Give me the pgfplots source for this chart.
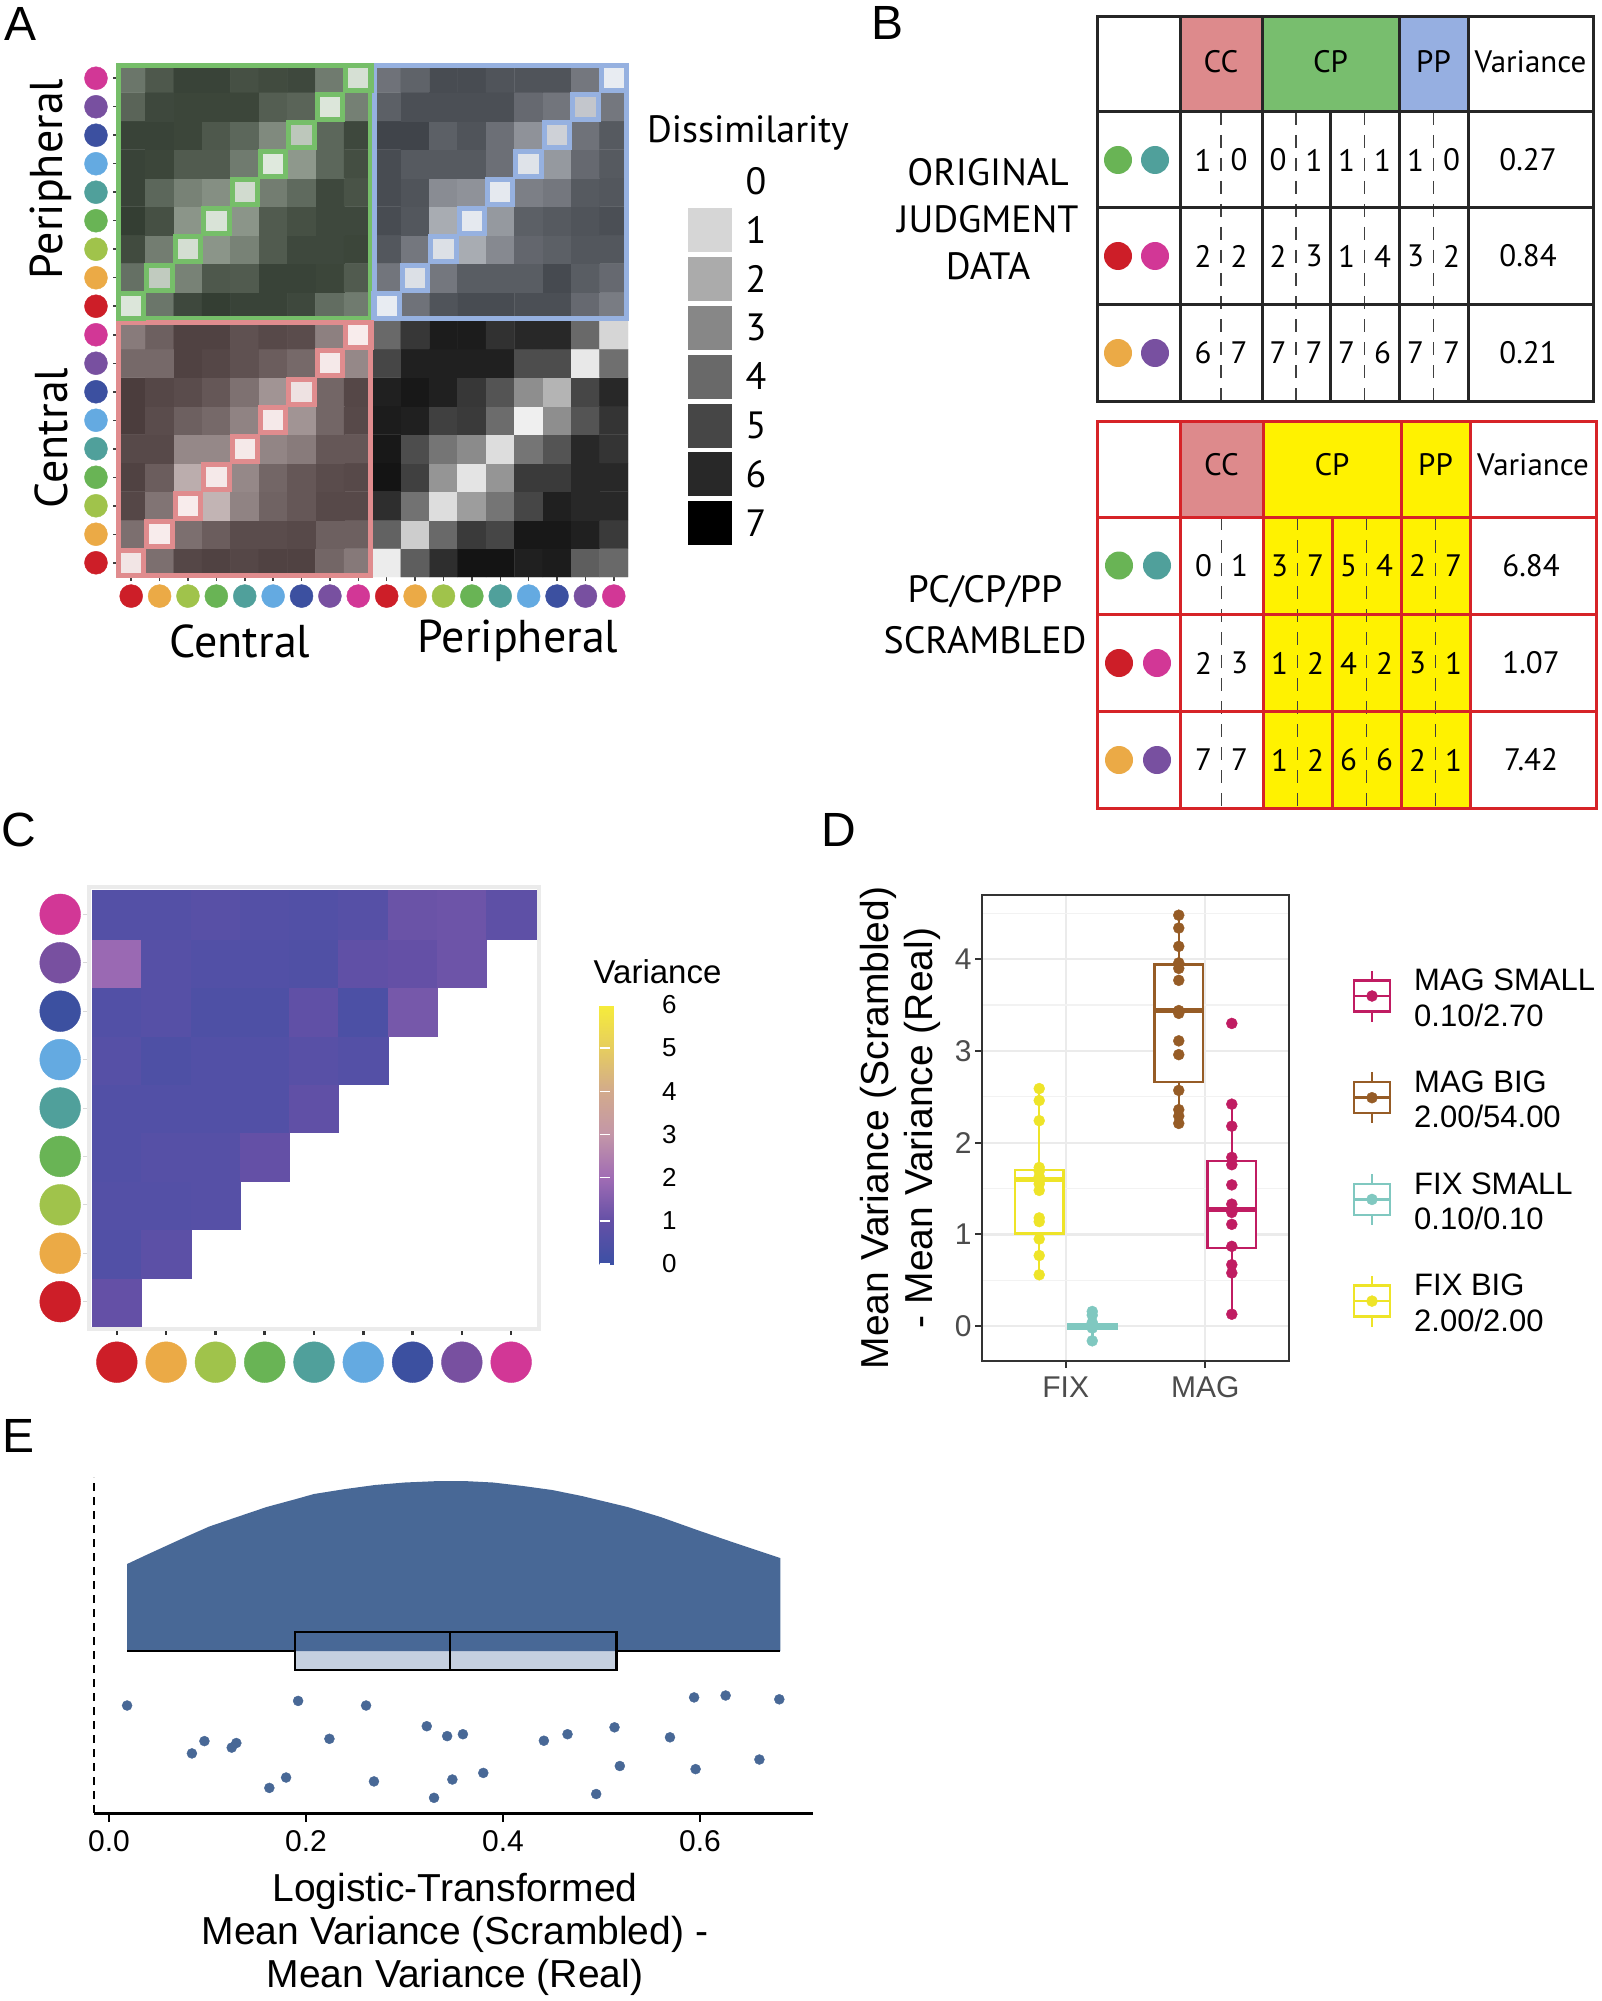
\documentclass[border=0pt]{standalone}
\usepackage{fontspec}
\setmainfont{Liberation Sans}
\newfontfamily\myr{PT Sans}
\usepackage{pgfplots}
\pgfplotsset{compat=1.18}
\usepgfplotslibrary{statistics}
\newcommand\fs[2]{\fontsize{#1}{#2}\selectfont}
\definecolor{cRed}{RGB}{205,30,40}
\definecolor{cOra}{RGB}{235,170,70}
\definecolor{cYgr}{RGB}{160,195,75}
\definecolor{cGrn}{RGB}{105,180,85}
\definecolor{cTea}{RGB}{80,160,155}
\definecolor{cLbl}{RGB}{100,170,225}
\definecolor{cDbl}{RGB}{60,80,160}
\definecolor{cPur}{RGB}{120,80,160}
\definecolor{cPnk}{RGB}{210,55,150}
\definecolor{qG}{RGB}{118,190,105}
\definecolor{qB}{RGB}{150,177,224}
\definecolor{qR}{RGB}{224,140,142}
\definecolor{hCC}{RGB}{221,138,140}
\definecolor{hCP}{RGB}{120,190,110}
\definecolor{hPP}{RGB}{150,175,225}
\definecolor{yel}{RGB}{255,242,0}
\definecolor{tRed}{RGB}{214,35,40}
\definecolor{dMag}{RGB}{192,28,98}
\definecolor{dBro}{RGB}{150,92,38}
\definecolor{dTea}{RGB}{128,200,192}
\definecolor{dYel}{RGB}{238,228,40}
\definecolor{eBlu}{RGB}{72,104,150}
\definecolor{eBox}{RGB}{197,208,224}
\pgfplotsset{
  /pgf/number format/assume math mode=true,
  colormap={grayq}{rgb255=(250,250,250) rgb255=(214,214,214) rgb255=(171,171,171) rgb255=(135,135,135) rgb255=(105,105,105) rgb255=(70,70,70) rgb255=(40,40,40) rgb255=(0,0,0)},
  colormap={greenq}{rgb255=(229,239,227) rgb255=(200,210,198) rgb255=(163,174,162) rgb255=(133,143,131) rgb255=(107,118,106) rgb255=(78,88,76) rgb255=(52,62,51) rgb255=(18,29,17)},
  colormap={blueq}{rgb255=(235,239,245) rgb255=(206,209,215) rgb255=(168,172,178) rgb255=(137,140,147) rgb255=(111,114,121) rgb255=(80,84,90) rgb255=(54,58,64) rgb255=(20,23,29)},
  colormap={redq}{rgb255=(248,236,236) rgb255=(216,202,202) rgb255=(180,166,166) rgb255=(149,136,136) rgb255=(124,111,111) rgb255=(95,81,81) rgb255=(70,56,56) rgb255=(36,22,22)},
  colormap={varmap}{rgb255=(60,80,165) rgb255=(100,80,166) rgb255=(160,108,180) rgb255=(195,150,168) rgb255=(210,170,140) rgb255=(230,205,95) rgb255=(246,236,58)},
  dotclasses/.style={scatter/classes={
     cr={draw=cRed,fill=cRed}, co={draw=cOra,fill=cOra}, cy={draw=cYgr,fill=cYgr},
     cg={draw=cGrn,fill=cGrn}, ct={draw=cTea,fill=cTea}, cl={draw=cLbl,fill=cLbl},
     cd={draw=cDbl,fill=cDbl}, cp={draw=cPur,fill=cPur}, cm={draw=cPnk,fill=cPnk}}},
}
\newcommand\pr[4]{\node[font=\myr\fs{31}{36}] at (#1-18,#2) {#3};\node[font=\myr\fs{31}{36}] at (#1+18,#2) {#4};}
\begin{document}
\begin{tikzpicture}
\path[use as bounding box] (0pt,0pt) rectangle (1602pt,-2001pt);

% ---------------- Panel A heatmap ----------------
\begin{axis}[at={(117pt,-64pt)}, anchor=north west, scale only axis, width=511pt, height=513pt,
  xmin=-0.5, xmax=17.5, ymin=-0.5, ymax=17.5, clip=false, enlargelimits=false,
  axis line style={draw=none}, xtick={0,...,17}, ytick={0,...,17}, xticklabels={}, yticklabels={},
  xtick pos=bottom, ytick pos=left, tick align=outside, major tick length=4pt,
  tick style={draw=black!75, line width=1.5pt},
  point meta min=0, point meta max=7]
\addplot[matrix plot*, mesh/cols=9, point meta=explicit, colormap name=greenq] table[row sep=\\, meta=v] {x y v\\
0 9 0.3\\ 1 9 4.0\\ 2 9 5.6\\ 3 9 6.0\\ 4 9 5.8\\ 5 9 5.8\\ 6 9 5.6\\ 7 9 4.3\\ 8 9 3.8\\
0 10 4.2\\ 1 10 1.2\\ 2 10 3.5\\ 3 10 5.0\\ 4 10 4.9\\ 5 10 5.8\\ 6 10 5.8\\ 7 10 5.7\\ 8 10 4.9\\
0 11 5.5\\ 1 11 3.7\\ 2 11 0.6\\ 3 11 2.8\\ 4 11 3.5\\ 5 11 4.9\\ 6 11 5.6\\ 7 11 5.6\\ 8 11 5.7\\
0 12 6.0\\ 1 12 5.3\\ 2 12 2.8\\ 3 12 0.4\\ 4 12 2.8\\ 5 12 4.9\\ 6 12 5.3\\ 7 12 5.6\\ 8 12 5.6\\
0 13 5.8\\ 1 13 4.5\\ 2 13 3.5\\ 3 13 3.0\\ 4 13 0.7\\ 5 13 3.7\\ 6 13 4.4\\ 7 13 5.6\\ 8 13 5.2\\
0 14 5.8\\ 1 14 5.7\\ 2 14 4.9\\ 3 14 4.9\\ 4 14 3.8\\ 5 14 0.2\\ 6 14 2.7\\ 7 14 4.5\\ 8 14 5.4\\
0 15 5.8\\ 1 15 5.8\\ 2 15 5.7\\ 3 15 5.0\\ 4 15 4.5\\ 5 15 3.2\\ 6 15 1.3\\ 7 15 4.5\\ 8 15 5.6\\
0 16 4.6\\ 1 16 5.6\\ 2 16 5.7\\ 3 16 5.7\\ 4 16 5.7\\ 5 16 4.8\\ 6 16 4.6\\ 7 16 0.3\\ 8 16 3.6\\
0 17 4.0\\ 1 17 5.0\\ 2 17 5.8\\ 3 17 5.8\\ 4 17 5.3\\ 5 17 5.5\\ 6 17 5.6\\ 7 17 3.8\\ 8 17 0.5\\
};
\addplot[matrix plot*, mesh/cols=9, point meta=explicit, colormap name=blueq] table[row sep=\\, meta=v] {x y v\\
9 9 0.1\\ 10 9 4.0\\ 11 9 5.0\\ 12 9 5.3\\ 13 9 5.3\\ 14 9 5.2\\ 15 9 5.2\\ 16 9 4.3\\ 17 9 3.6\\
9 10 3.9\\ 10 10 0.5\\ 11 10 3.8\\ 12 10 4.7\\ 13 10 4.7\\ 14 10 4.7\\ 15 10 5.4\\ 16 10 4.7\\ 17 10 4.3\\
9 11 4.9\\ 10 11 3.8\\ 11 11 0.5\\ 12 11 2.0\\ 13 11 3.1\\ 14 11 4.4\\ 15 11 4.6\\ 16 11 4.9\\ 17 11 4.9\\
9 12 5.3\\ 10 12 4.9\\ 11 12 2.0\\ 12 12 0.2\\ 13 12 2.6\\ 14 12 4.6\\ 15 12 4.8\\ 16 12 5.0\\ 17 12 5.2\\
9 13 5.3\\ 10 13 5.0\\ 11 13 3.0\\ 12 13 2.8\\ 13 13 0.2\\ 14 13 3.5\\ 15 13 3.8\\ 16 13 4.8\\ 17 13 4.9\\
9 14 5.3\\ 10 14 4.8\\ 11 14 4.8\\ 12 14 4.8\\ 13 14 4.1\\ 14 14 0.4\\ 15 14 2.6\\ 16 14 4.3\\ 17 14 4.8\\
9 15 5.6\\ 10 15 5.6\\ 11 15 4.6\\ 12 15 5.0\\ 13 15 4.1\\ 14 15 2.8\\ 15 15 1.0\\ 16 15 4.0\\ 17 15 4.8\\
9 16 4.6\\ 10 16 5.2\\ 11 16 5.2\\ 12 16 5.2\\ 13 16 5.2\\ 14 16 4.3\\ 15 16 3.9\\ 16 16 1.3\\ 17 16 3.8\\
9 17 4.0\\ 10 17 4.5\\ 11 17 5.3\\ 12 17 5.3\\ 13 17 5.0\\ 14 17 5.0\\ 15 17 5.0\\ 16 17 3.8\\ 17 17 0.1\\
};
\addplot[matrix plot*, mesh/cols=9, point meta=explicit, colormap name=redq] table[row sep=\\, meta=v] {x y v\\
0 0 0.2\\ 1 0 4.0\\ 2 0 5.4\\ 3 0 5.6\\ 4 0 5.4\\ 5 0 5.6\\ 6 0 5.6\\ 7 0 4.3\\ 8 0 3.6\\
0 1 4.0\\ 1 1 0.0\\ 2 1 4.0\\ 3 1 4.6\\ 4 1 5.2\\ 5 1 5.2\\ 6 1 5.3\\ 7 1 4.5\\ 8 1 4.5\\
0 2 5.4\\ 1 2 3.8\\ 2 2 0.0\\ 3 2 1.6\\ 4 2 3.2\\ 5 2 4.4\\ 6 2 4.8\\ 7 2 5.3\\ 8 2 5.3\\
0 3 5.6\\ 1 3 4.6\\ 2 3 1.8\\ 3 3 0.1\\ 4 3 3.0\\ 5 3 4.3\\ 6 3 4.8\\ 7 3 5.2\\ 8 3 5.3\\
0 4 5.3\\ 1 4 5.3\\ 2 4 3.0\\ 3 4 3.0\\ 4 4 0.1\\ 5 4 3.1\\ 6 4 3.5\\ 7 4 4.8\\ 8 4 4.8\\
0 5 5.8\\ 1 5 5.2\\ 2 5 4.5\\ 3 5 4.2\\ 4 5 3.2\\ 5 5 0.1\\ 6 5 2.6\\ 7 5 4.3\\ 8 5 5.3\\
0 6 5.8\\ 1 6 5.4\\ 2 6 5.2\\ 3 6 4.8\\ 4 6 3.9\\ 5 6 2.6\\ 6 6 0.3\\ 7 6 4.3\\ 8 6 5.4\\
0 7 4.2\\ 1 7 4.2\\ 2 7 5.6\\ 3 7 5.4\\ 4 7 5.0\\ 5 7 4.6\\ 6 7 4.2\\ 7 7 0.1\\ 8 7 3.0\\
0 8 3.5\\ 1 8 4.5\\ 2 8 5.6\\ 3 8 5.6\\ 4 8 5.0\\ 5 8 5.3\\ 6 8 5.2\\ 7 8 3.3\\ 8 8 0.0\\
};
\addplot[matrix plot*, mesh/cols=9, point meta=explicit, colormap name=grayq] table[row sep=\\, meta=v] {x y v\\
9 0 0.4\\ 10 0 4.3\\ 11 0 5.8\\ 12 0 6.5\\ 13 0 6.5\\ 14 0 6.2\\ 15 0 6.3\\ 16 0 4.3\\ 17 0 4.0\\
9 1 4.2\\ 10 1 1.2\\ 11 1 4.0\\ 12 1 5.4\\ 13 1 5.0\\ 14 1 6.4\\ 15 1 6.4\\ 16 1 6.2\\ 17 1 5.4\\
9 2 5.8\\ 10 2 3.7\\ 11 2 0.8\\ 12 2 2.4\\ 13 2 3.6\\ 14 2 5.0\\ 15 2 6.2\\ 16 2 6.0\\ 17 2 6.0\\
9 3 6.5\\ 10 3 5.2\\ 11 3 2.6\\ 12 3 0.6\\ 13 3 2.6\\ 14 3 5.4\\ 15 3 5.4\\ 16 3 6.0\\ 17 3 6.0\\
9 4 6.4\\ 10 4 4.8\\ 11 4 3.6\\ 12 4 2.9\\ 13 4 0.8\\ 14 4 3.6\\ 15 4 4.6\\ 16 4 6.0\\ 17 4 5.6\\
9 5 6.3\\ 10 5 6.2\\ 11 5 5.2\\ 12 5 5.4\\ 13 5 3.9\\ 14 5 0.3\\ 15 5 2.8\\ 16 5 4.6\\ 17 5 5.6\\
9 6 6.2\\ 10 6 6.4\\ 11 6 6.2\\ 12 6 5.5\\ 13 6 4.6\\ 14 6 2.8\\ 15 6 1.8\\ 16 6 5.0\\ 17 6 6.0\\
9 7 5.0\\ 10 7 6.2\\ 11 7 6.2\\ 12 7 6.2\\ 13 7 6.2\\ 14 7 4.8\\ 15 7 4.8\\ 16 7 0.5\\ 17 7 3.8\\
9 8 4.0\\ 10 8 5.5\\ 11 8 6.3\\ 12 8 6.3\\ 13 8 5.7\\ 14 8 6.0\\ 15 8 6.0\\ 16 8 4.0\\ 17 8 1.0\\
};
% quadrant outlines
\addplot[draw=qG, line width=5pt, line join=miter] coordinates {(-0.43,8.57) (8.43,8.57) (8.43,17.43) (-0.43,17.43)} --cycle;
\addplot[draw=qB, line width=5pt, line join=miter] coordinates {(8.57,8.57) (17.43,8.57) (17.43,17.43) (8.57,17.43)} --cycle;
\addplot[draw=qR, line width=5pt, line join=miter] coordinates {(-0.43,-0.43) (8.43,-0.43) (8.43,8.43) (-0.43,8.43)} --cycle;
\addplot[only marks, mark=square, mark size=12.7pt, mark options={draw=qG, line width=5pt}] coordinates {(0,9) (1,10) (2,11) (3,12) (4,13) (5,14) (6,15) (7,16) (8,17)};
\addplot[only marks, mark=square, mark size=12.7pt, mark options={draw=qB, line width=5pt}] coordinates {(9,9) (10,10) (11,11) (12,12) (13,13) (14,14) (15,15) (16,16) (17,17)};
\addplot[only marks, mark=square, mark size=12.7pt, mark options={draw=qR, line width=5pt}] coordinates {(0,0) (1,1) (2,2) (3,3) (4,4) (5,5) (6,6) (7,7) (8,8)};
% colour dots
\addplot[scatter, only marks, mark=*, mark size=11.5pt, scatter src=explicit symbolic, dotclasses] table[row sep=\\, meta=c] {x y c\\
-1.24 0 cr\\ -1.24 1 co\\ -1.24 2 cy\\ -1.24 3 cg\\ -1.24 4 ct\\ -1.24 5 cl\\ -1.24 6 cd\\ -1.24 7 cp\\ -1.24 8 cm\\
-1.24 9 cr\\ -1.24 10 co\\ -1.24 11 cy\\ -1.24 12 cg\\ -1.24 13 ct\\ -1.24 14 cl\\ -1.24 15 cd\\ -1.24 16 cp\\ -1.24 17 cm\\
0 -1.17 cr\\ 1 -1.17 co\\ 2 -1.17 cy\\ 3 -1.17 cg\\ 4 -1.17 ct\\ 5 -1.17 cl\\ 6 -1.17 cd\\ 7 -1.17 cp\\ 8 -1.17 cm\\
9 -1.17 cr\\ 10 -1.17 co\\ 11 -1.17 cy\\ 12 -1.17 cg\\ 13 -1.17 ct\\ 14 -1.17 cl\\ 15 -1.17 cd\\ 16 -1.17 cp\\ 17 -1.17 cm\\
};
\end{axis}

% Dissimilarity legend
\begin{axis}[at={(689pt,-156.5pt)}, anchor=north west, scale only axis, width=41pt, height=391pt,
  xmin=-0.5, xmax=0.5, ymin=-0.5, ymax=7.5, y dir=reverse, axis line style={draw=none},
  xtick=\empty, ytick={0,...,7}, yticklabel pos=right, major tick length=0pt,
  ytick style={draw=none},
  yticklabel style={font=\myr\fs{38}{44}, anchor=west, xshift=12pt},
  colormap name=grayq, point meta min=0, point meta max=7]
\addplot[scatter, only marks, mark=square*, mark size=21.5pt, point meta=explicit,
  scatter/use mapped color={draw=mapped color, fill=mapped color}] table[row sep=\\, meta=v] {x y v\\
0 1 1\\ 0 2 2\\ 0 3 3\\ 0 4 4\\ 0 5 5\\ 0 6 6\\ 0 7 7\\};
\end{axis}

% ---------------- Panel C ----------------
\begin{axis}[at={(89pt,-887pt)}, anchor=north west, scale only axis, width=450pt, height=442pt,
  xmin=-0.565, xmax=8.565, ymin=-0.565, ymax=8.565, clip=false,
  axis line style={draw=black!8, line width=4.3pt},
  xtick={0,...,8}, ytick={0,...,8}, xticklabels={}, yticklabels={},
  xtick pos=bottom, ytick pos=left, tick align=outside, major tick length=6pt,
  xtick style={draw=black!80, line width=2.5pt}, ytick style={draw=black!15, line width=1pt},
  colormap name=varmap, point meta min=0, point meta max=6,
  colorbar,
  colorbar style={at={(parent axis.north east)}, anchor=north west, xshift=52pt, yshift=-118pt,
    scale only axis, width=51pt, height=259pt, axis line style={draw=none},
    ytick={0,...,6}, ytick pos=both, yticklabel pos=right, tick align=inside, major tick length=10pt,
    ytick style={draw=white, line width=1.5pt},
    yticklabel style={font=\fs{26}{30}, xshift=8pt}}]
\addplot[scatter, only marks, mark=square*, mark size=24.65pt, point meta=explicit,
  scatter/use mapped color={draw=mapped color, fill=mapped color}] table[row sep=\\, meta=v] {x y v\\
0 0 1.0\\
0 1 0.55\\ 1 1 0.8\\
0 2 0.6\\ 1 2 0.6\\ 2 2 0.65\\
0 3 0.55\\ 1 3 0.65\\ 2 3 0.65\\ 3 3 1.0\\
0 4 0.55\\ 1 4 0.55\\ 2 4 0.55\\ 3 4 0.55\\ 4 4 0.9\\
0 5 0.65\\ 1 5 0.45\\ 2 5 0.55\\ 3 5 0.55\\ 4 5 0.7\\ 5 5 0.6\\
0 6 0.55\\ 1 6 0.65\\ 2 6 0.45\\ 3 6 0.45\\ 4 6 0.9\\ 5 6 0.4\\ 6 6 1.3\\
0 7 1.9\\ 1 7 0.65\\ 2 7 0.55\\ 3 7 0.55\\ 4 7 0.5\\ 5 7 0.9\\ 6 7 1.0\\ 7 7 1.15\\
0 8 0.6\\ 1 8 0.6\\ 2 8 0.7\\ 3 8 0.6\\ 4 8 0.55\\ 5 8 0.65\\ 6 8 1.1\\ 7 8 1.15\\ 8 8 0.85\\
};
\addplot[scatter, only marks, mark=*, mark size=20.4pt, scatter src=explicit symbolic, dotclasses] table[row sep=\\, meta=c] {x y c\\
-1.15 0 cr\\ -1.15 1 co\\ -1.15 2 cy\\ -1.15 3 cg\\ -1.15 4 ct\\ -1.15 5 cl\\ -1.15 6 cd\\ -1.15 7 cp\\ -1.15 8 cm\\
0 -1.25 cr\\ 1 -1.25 co\\ 2 -1.25 cy\\ 3 -1.25 cg\\ 4 -1.25 ct\\ 5 -1.25 cl\\ 6 -1.25 cd\\ 7 -1.25 cp\\ 8 -1.25 cm\\
};
\end{axis}

% ---------------- Panel D ----------------
\begin{axis}[at={(982pt,-895pt)}, anchor=north west, scale only axis, width=307pt, height=466pt,
  xmin=0.4, xmax=2.6, ymin=-0.38, ymax=4.70,
  axis line style={draw=black!80, line width=2pt},
  xtick={1,2}, xticklabels={FIX,MAG}, ytick={0,...,4}, minor ytick={0.5,1.5,2.5,3.5,4.5},
  grid=both, major grid style={draw=black!8, line width=2.2pt}, minor grid style={draw=black!5, line width=1.2pt},
  tick align=outside, major tick length=7pt, minor tick length=0pt,
  xtick pos=bottom, ytick pos=left,
  tick style={draw=black!80, line width=2pt},
  tick label style={font=\fs{30}{36}, text=black!70},
  xticklabel style={yshift=-5pt}]
\addplot[draw=dYel, line width=2.5pt, fill=white, boxplot prepared={draw direction=y, draw position=0.81, lower whisker=0.56, lower quartile=1.01, median=1.60, upper quartile=1.70, upper whisker=2.59, box extend=0.35, whisker extend=0, every median/.style={line width=5pt}}] coordinates {};
\addplot[draw=dTea, line width=2.5pt, fill=dTea, boxplot prepared={draw direction=y, draw position=1.19, lower whisker=-0.16, lower quartile=-0.025, median=0, upper quartile=0.025, upper whisker=0.16, box extend=0.35, whisker extend=0, every median/.style={line width=5pt}}] coordinates {};
\addplot[draw=dBro, line width=2.5pt, fill=white, boxplot prepared={draw direction=y, draw position=1.81, lower whisker=2.21, lower quartile=2.66, median=3.44, upper quartile=3.94, upper whisker=4.48, box extend=0.35, whisker extend=0, every median/.style={line width=5pt}}] coordinates {};
\addplot[draw=dMag, line width=2.5pt, fill=white, boxplot prepared={draw direction=y, draw position=2.19, lower whisker=0.13, lower quartile=0.85, median=1.27, upper quartile=1.80, upper whisker=2.42, box extend=0.35, whisker extend=0, every median/.style={line width=5pt}}] coordinates {};
\addplot[only marks, mark=*, mark size=5.5pt, dYel] coordinates {(0.81,2.59) (0.81,2.46) (0.81,2.24) (0.81,1.73) (0.81,1.69) (0.81,1.63) (0.81,1.58) (0.81,1.55) (0.81,1.48) (0.81,1.18) (0.81,1.14) (0.81,0.95) (0.81,0.77) (0.81,0.56)};
\addplot[only marks, mark=*, mark size=5.5pt, dTea] coordinates {(1.19,0.16) (1.19,0.12) (1.19,0.04) (1.19,0) (1.19,-0.02) (1.19,-0.16)};
\addplot[only marks, mark=*, mark size=5.5pt, dBro] coordinates {(1.81,4.48) (1.81,4.34) (1.81,4.14) (1.81,3.96) (1.81,3.90) (1.81,3.77) (1.81,3.44) (1.81,3.41) (1.81,3.11) (1.81,2.96) (1.81,2.57) (1.81,2.36) (1.81,2.29) (1.81,2.21)};
\addplot[only marks, mark=*, mark size=5.5pt, dMag] coordinates {(2.19,3.30) (2.19,2.42) (2.19,2.18) (2.19,1.84) (2.19,1.76) (2.19,1.54) (2.19,1.33) (2.19,1.24) (2.19,1.11) (2.19,0.87) (2.19,0.67) (2.19,0.58) (2.19,0.13)};
\end{axis}

% D legend keys
\begin{axis}[at={(1340pt,-940pt)}, anchor=north west, scale only axis, width=60pt, height=410pt,
  xmin=0, xmax=60, ymin=940, ymax=1350, y dir=reverse, hide axis, clip=false]
\addplot[draw=dMag, line width=2.5pt, fill=white, boxplot prepared={draw direction=y, draw position=32, lower whisker=970.5, lower quartile=980.5, median=996, upper quartile=1011.5, upper whisker=1021.5, box extend=36, whisker extend=0}] coordinates {};
\addplot[draw=dBro, line width=2.5pt, fill=white, boxplot prepared={draw direction=y, draw position=32, lower whisker=1072.2, lower quartile=1082.2, median=1097.7, upper quartile=1113.2, upper whisker=1123.2, box extend=36, whisker extend=0}] coordinates {};
\addplot[draw=dTea, line width=2.5pt, fill=white, boxplot prepared={draw direction=y, draw position=32, lower whisker=1173.9, lower quartile=1183.9, median=1199.4, upper quartile=1214.9, upper whisker=1224.9, box extend=36, whisker extend=0}] coordinates {};
\addplot[draw=dYel, line width=2.5pt, fill=white, boxplot prepared={draw direction=y, draw position=32, lower whisker=1275.6, lower quartile=1285.6, median=1301.1, upper quartile=1316.6, upper whisker=1326.6, box extend=36, whisker extend=0}] coordinates {};
\addplot[only marks, mark=*, mark size=5.5pt, dMag] coordinates {(32,996)};
\addplot[only marks, mark=*, mark size=5.5pt, dBro] coordinates {(32,1097.7)};
\addplot[only marks, mark=*, mark size=5.5pt, dTea] coordinates {(32,1199.4)};
\addplot[only marks, mark=*, mark size=5.5pt, dYel] coordinates {(32,1301.1)};
\end{axis}

% ---------------- Panel E ----------------
\begin{axis}[at={(94pt,-1813pt)}, anchor=south west, scale only axis, width=719pt, height=336pt,
  xmin=-0.0152, xmax=0.7147, ymin=-162, ymax=174,
  axis x line=bottom, axis y line=left,
  x axis line style={-, draw=black, line width=3pt},
  y axis line style={-, draw=black, line width=1.5pt, dash pattern=on 8pt off 6pt},
  ytick=\empty, xtick={0,0.2,0.4,0.6},
  xticklabel style={/pgf/number format/.cd, fixed, fixed zerofill, precision=1, /tikz/.cd, font=\fs{30}{36}, yshift=-5pt},
  tick align=outside, major tick length=9pt, xtick style={draw=black, line width=2.5pt},
  clip=false]
\addplot[fill=eBox, draw=black, line width=2.5pt, boxplot prepared={draw direction=x, draw position=0, lower whisker=0.0184, lower quartile=0.189, median=0.346, upper quartile=0.515, upper whisker=0.6815, box extend=38, whisker extend=0}] coordinates {};
\addplot[fill=eBlu, draw=none] coordinates {(0.0184,0) (0.0184,87) (0.04,97) (0.06,106) (0.08,115) (0.1018,124.5) (0.13,134) (0.16,144) (0.19,152) (0.208,157) (0.24,162) (0.27,166) (0.30,168.5) (0.3354,170) (0.36,170) (0.39,168.5) (0.4203,165) (0.45,161) (0.48,155) (0.5265,144) (0.56,134) (0.60,120) (0.6327,109) (0.66,100) (0.6815,93) (0.6815,0)} --cycle;
\addplot[fill=none, draw=black, line width=2.5pt, boxplot prepared={draw direction=x, draw position=0, lower whisker=0.0184, lower quartile=0.189, median=0.346, upper quartile=0.515, upper whisker=0.6815, box extend=38, whisker extend=0}] coordinates {};
\addplot[only marks, mark=*, mark size=5pt, eBlu] coordinates {(0.0184,-54.5) (0.192,-49.9) (0.261,-54.5) (0.594,-46.4) (0.626,-44.5) (0.6805,-48.3) (0.3226,-75.2) (0.3433,-85.1) (0.3593,-83.2) (0.5132,-76.3) (0.4655,-83.2) (0.4415,-89.7) (0.5695,-86.3) (0.2238,-87.8) (0.0969,-90.1) (0.0842,-102.4) (0.1293,-92) (0.1246,-96.6) (0.5186,-115) (0.5955,-118.1) (0.6603,-108.5) (0.380,-121.9) (0.3486,-128.5) (0.269,-130.4) (0.1798,-126.5) (0.1628,-136.9) (0.330,-146.8) (0.4946,-143)};
\end{axis}

% ---------------- Text and tables ----------------
\begin{scope}[x=1pt,y=-1pt]
% panel letters
\node[font=\fs{48}{56}] at (21,23.5) {A};
\node[font=\fs{48}{56}] at (887,23) {B};
\node[font=\fs{48}{56}] at (19,830) {C};
\node[font=\fs{48}{56}] at (839,830) {D};
\node[font=\fs{48}{56}] at (19,1436) {E};
% panel A labels
\node[font=\myr\fs{46}{54}, rotate=90] at (51,179) {Peripheral};
\node[font=\myr\fs{46}{54}, rotate=90] at (51,438) {Central};
\node[font=\myr\fs{46}{54}] at (240,641) {Central};
\node[font=\myr\fs{46}{54}] at (518,641) {Peripheral};
\node[font=\myr\fs{38}{44}] at (748,133) {Dissimilarity};
% panel C colourbar title
\node[font=\fs{33}{40}] at (657.5,972) {Variance};
% panel D labels
\node[font=\fs{39}{44}, rotate=90, align=center] at (900,1128) {Mean Variance (Scrambled)\\- Mean Variance (Real)};
\begin{scope}[every node/.style={font=\fs{31}{36}, anchor=west, inner sep=0pt}]
\node at (1414,980) {MAG SMALL}; \node at (1414,1015) {0.10/2.70};
\node at (1414,1081.7) {MAG BIG}; \node at (1414,1116.7) {2.00/54.00};
\node at (1414,1183.4) {FIX SMALL}; \node at (1414,1218.4) {0.10/0.10};
\node at (1414,1285.1) {FIX BIG}; \node at (1414,1320.1) {2.00/2.00};
\end{scope}
% panel E label
\node[font=\fs{39}{43}, align=center] at (455,1934) {Logistic-Transformed\\Mean Variance (Scrambled) -\\Mean Variance (Real)};

% table 1
\fill[hCC] (1180,17) rectangle (1262,112);
\fill[hCP] (1262,17) rectangle (1399,112);
\fill[hPP] (1399,17) rectangle (1468,112);
\draw[line width=1.5pt, black!75, dash pattern=on 13pt off 10pt] (1221,112) -- (1221,401) (1296,112) -- (1296,401) (1364.5,112) -- (1364.5,401) (1433.5,112) -- (1433.5,401);
\begin{scope}[line width=3pt, draw=black!85]
\draw (1097,17) rectangle (1593,401);
\draw (1097,112) -- (1593,112) (1097,208) -- (1593,208) (1097,304) -- (1593,304);
\draw (1180,17) -- (1180,401) (1262,17) -- (1262,401) (1399,17) -- (1399,401) (1468,17) -- (1468,401) (1330,112) -- (1330,401);
\end{scope}
\node[font=\myr\fs{31}{36}] at (1221,62) {CC};
\node[font=\myr\fs{31}{36}] at (1330.5,62) {CP};
\node[font=\myr\fs{31}{36}] at (1433.5,62) {PP};
\node[font=\myr\fs{31}{36}] at (1530.5,62) {Variance};
\pr{1221}{160}{1}{0} \pr{1296}{160}{0}{1} \pr{1364.5}{160}{1}{1} \pr{1433.5}{160}{1}{0}
\pr{1221}{256}{2}{2} \pr{1296}{256}{2}{3} \pr{1364.5}{256}{1}{4} \pr{1433.5}{256}{3}{2}
\pr{1221}{353}{6}{7} \pr{1296}{353}{7}{7} \pr{1364.5}{353}{7}{6} \pr{1433.5}{353}{7}{7}
\node[font=\myr\fs{31}{36}] at (1528,160) {0.27};
\node[font=\myr\fs{31}{36}] at (1528,256) {0.84};
\node[font=\myr\fs{31}{36}] at (1528,353) {0.21};
\fill[cGrn] (1118,160) circle (14pt); \fill[cTea] (1155,160) circle (14pt);
\fill[cRed] (1118,256) circle (14pt); \fill[cPnk] (1155,256) circle (14pt);
\fill[cOra] (1118,353) circle (14pt); \fill[cPur] (1155,353) circle (14pt);
\node[font=\myr\fs{38}{44}] at (988,172) {ORIGINAL};
\node[font=\myr\fs{38}{44}] at (988,219) {JUDGMENT};
\node[font=\myr\fs{38}{44}] at (988,266) {DATA};

% table 2
\fill[hCC] (1180,421) rectangle (1263,517);
\fill[yel] (1263,421) rectangle (1470,808);
\draw[line width=1.5pt, black!75, dash pattern=on 13pt off 10pt] (1221.5,517) -- (1221.5,808) (1297.5,517) -- (1297.5,808) (1366.5,517) -- (1366.5,808) (1435.5,517) -- (1435.5,808);
\begin{scope}[line width=3pt, draw=tRed]
\draw (1097,421) rectangle (1596,808);
\draw (1097,517) -- (1596,517) (1097,614) -- (1596,614) (1097,711) -- (1596,711);
\draw (1180,421) -- (1180,808) (1263,421) -- (1263,808) (1401,421) -- (1401,808) (1470,421) -- (1470,808) (1332,517) -- (1332,808);
\end{scope}
\node[font=\myr\fs{31}{36}] at (1221.5,465) {CC};
\node[font=\myr\fs{31}{36}] at (1332,465) {CP};
\node[font=\myr\fs{31}{36}] at (1435.5,465) {PP};
\node[font=\myr\fs{31}{36}] at (1533,465) {Variance};
\pr{1221.5}{565.5}{0}{1} \pr{1297.5}{565.5}{3}{7} \pr{1366.5}{565.5}{5}{4} \pr{1435.5}{565.5}{2}{7}
\pr{1221.5}{663}{2}{3} \pr{1297.5}{663}{1}{2} \pr{1366.5}{663}{4}{2} \pr{1435.5}{663}{3}{1}
\pr{1221.5}{760}{7}{7} \pr{1297.5}{760}{1}{2} \pr{1366.5}{760}{6}{6} \pr{1435.5}{760}{2}{1}
\node[font=\myr\fs{31}{36}] at (1531,565.5) {6.84};
\node[font=\myr\fs{31}{36}] at (1531,663) {1.07};
\node[font=\myr\fs{31}{36}] at (1531,760) {7.42};
\fill[cGrn] (1119,565.5) circle (14pt); \fill[cTea] (1157,565.5) circle (14pt);
\fill[cRed] (1119,663) circle (14pt); \fill[cPnk] (1157,663) circle (14pt);
\fill[cOra] (1119,760) circle (14pt); \fill[cPur] (1157,760) circle (14pt);
\node[font=\myr\fs{38}{44}] at (985,592) {PC/CP/PP};
\node[font=\myr\fs{38}{44}] at (985,640) {SCRAMBLED};
\end{scope}
\end{tikzpicture}
\end{document}
